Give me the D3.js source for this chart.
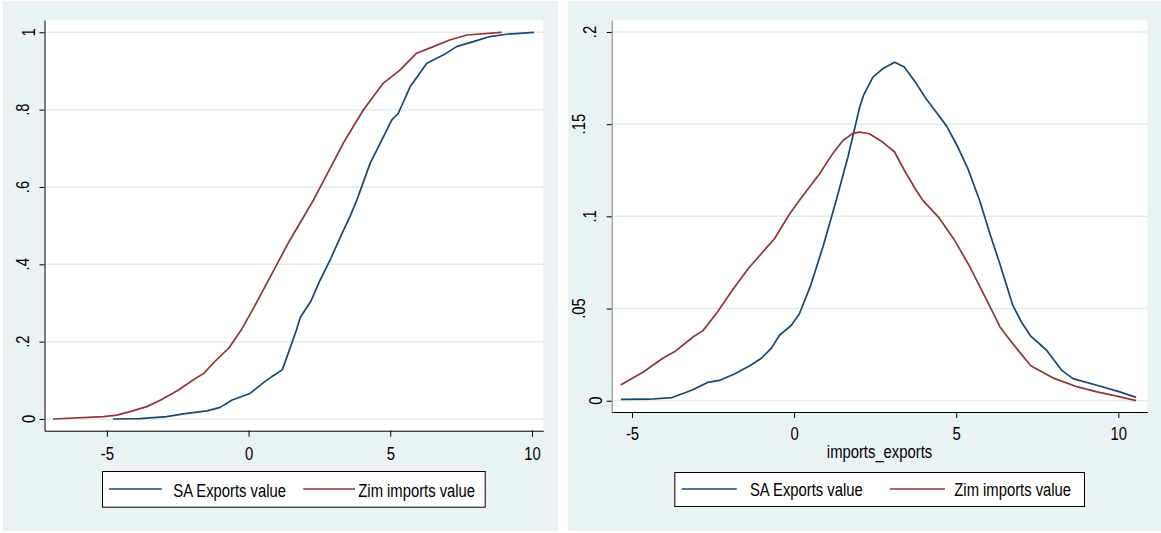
<!DOCTYPE html>
<html>
<head>
<meta charset="utf-8">
<script src="https://cdn.jsdelivr.net/npm/d3@7"></script>
<style>
  body { margin: 0; background: #fff; }
  svg { display: block; }
  text { font-family: "Liberation Sans", Arial, sans-serif; font-size: 19px; fill: #000; }
</style>
</head>
<body>
<svg id="chart" width="1161" height="533"></svg>
<script>
// ---- data ----
const seriesNames = ["SA Exports value", "Zim imports value"];

// left panel: cumulative distributions
const saCdfX  = [-4.78, -3.83, -2.89, -2.3, -1.47, -1.0, -0.58, 0.05, 0.56, 0.81, 1.19, 1.44, 1.69, 1.82, 2.2, 2.5, 2.9, 3.3, 3.6, 3.82, 4.29, 4.7, 5.05, 5.28, 5.7, 6.29, 6.87, 7.34, 7.93, 8.52, 9.1, 10.07];
const saCdfP  = [0, 0.001, 0.006, 0.013, 0.021, 0.03, 0.049, 0.066, 0.096, 0.109, 0.127, 0.178, 0.23, 0.262, 0.305, 0.355, 0.415, 0.48, 0.527, 0.566, 0.661, 0.721, 0.773, 0.79, 0.859, 0.92, 0.941, 0.963, 0.976, 0.989, 0.995, 1.0];
const zimCdfX = [-6.9, -5.12, -4.65, -4.18, -3.59, -3.1, -2.47, -1.96, -1.58, -1.2, -0.7, -0.26, 0.2, 0.6, 1.0, 1.4, 1.8, 2.29, 3.34, 4.05, 4.75, 5.34, 5.93, 6.52, 7.1, 7.7, 8.93];
const zimCdfP = [0, 0.006, 0.01, 0.019, 0.032, 0.049, 0.075, 0.101, 0.118, 0.148, 0.183, 0.23, 0.29, 0.345, 0.4, 0.455, 0.505, 0.566, 0.713, 0.799, 0.868, 0.902, 0.946, 0.963, 0.98, 0.993, 1.0];

// right panel: kernel densities
const saDensX  = [-5.34, -4.47, -3.76, -3.14, -2.67, -2.31, -1.84, -1.38, -1.01, -0.7, -0.45, -0.08, 0.16, 0.5, 0.9, 1.3, 1.66, 2.02, 2.14, 2.43, 2.73, 3.1, 3.4, 3.77, 4.07, 4.38, 4.71, 5.05, 5.36, 5.72, 6.05, 6.35, 6.74, 7.0, 7.3, 7.78, 8.25, 8.6, 9.31, 10.02, 10.55];
const saDensY  = [0.0007, 0.0008, 0.0017, 0.0058, 0.0099, 0.011, 0.0145, 0.0188, 0.023, 0.0285, 0.0355, 0.041, 0.047, 0.062, 0.084, 0.1087, 0.1322, 0.159, 0.1656, 0.1755, 0.18, 0.1836, 0.181, 0.172, 0.1638, 0.1566, 0.1488, 0.1376, 0.1259, 0.1087, 0.09, 0.074, 0.052, 0.043, 0.035, 0.0275, 0.0166, 0.012, 0.0085, 0.0049, 0.0018];
const zimDensX = [-5.35, -4.64, -4.05, -3.69, -3.11, -2.81, -2.37, -1.9, -1.4, -1.0, -0.6, -0.15, 0.16, 0.78, 1.19, 1.5, 1.81, 2.02, 2.32, 2.73, 3.1, 3.4, 3.77, 3.97, 4.48, 4.95, 5.41, 5.87, 6.1, 6.35, 6.65, 6.95, 7.3, 8.02, 8.72, 9.31, 10.02, 10.55];
const zimDensY = [0.0085, 0.0157, 0.023, 0.0265, 0.0347, 0.038, 0.048, 0.06, 0.072, 0.08, 0.088, 0.101, 0.1086, 0.123, 0.134, 0.141, 0.145, 0.1457, 0.1448, 0.1403, 0.1349, 0.125, 0.114, 0.1087, 0.099, 0.087, 0.073, 0.057, 0.049, 0.04, 0.033, 0.0265, 0.019, 0.0121, 0.0076, 0.0049, 0.0022, 0.0];

const xTicks      = [-5, 0, 5, 10];
const cdfTicks    = [0, 0.2, 0.4, 0.6, 0.8, 1];
const cdfLabels   = ["0", ".2", ".4", ".6", ".8", "1"];
const densTicks   = [0, 0.05, 0.1, 0.15, 0.2];
const densLabels  = ["0", ".05", ".1", ".15", ".2"];
const xTitleRight = "imports_exports";

const colors = ["#1A476F", "#90353B"];
const bgColor = "#EAF2F3";
const sq = 0.78;   // text in the picture is narrowed horizontally

const svg = d3.select("#chart");

function zip(xs, ys) { return xs.map((v, i) => [v, ys[i]]); }

function panel(cfg) {
  const g = svg.append("g");
  const p = cfg.plot;

  g.append("rect")
    .attr("x", cfg.bg[0]).attr("y", cfg.bg[1])
    .attr("width", cfg.bg[2]).attr("height", cfg.bg[3])
    .attr("fill", bgColor);

  g.append("rect")
    .attr("x", p.x0).attr("y", p.y0)
    .attr("width", p.x1 - p.x0).attr("height", p.y1 - p.y0)
    .attr("fill", "#fff");

  const x = d3.scaleLinear().domain(cfg.xDom).range([p.x0, p.x1]);
  const y = d3.scaleLinear().domain(cfg.yDom).range([p.y1, p.y0]);

  // grid
  g.append("g").selectAll("line")
    .data(cfg.yTicks)
    .enter()
    .append("line")
    .attr("x1", p.x0).attr("x2", p.x1)
    .attr("y1", d => y(d)).attr("y2", d => y(d))
    .attr("stroke", "#E3ECEF")
    .attr("stroke-width", 1.5);

  // x axis
  const xAxis = g.append("g")
    .attr("transform", `translate(0,${p.y1})`)
    .call(d3.axisBottom(x).tickValues(xTicks).tickSize(6).tickSizeOuter(0)
      .tickPadding(cfg.xPad).tickFormat(d => String(d)));
  xAxis.attr("font-family", null).attr("font-size", null);
  xAxis.selectAll("text").attr("transform", `scale(${sq},1)`);
  xAxis.select(".domain").attr("stroke", "#000");

  // y axis
  const yAxis = g.append("g")
    .attr("transform", `translate(${p.x0},0)`)
    .call(d3.axisLeft(y).tickValues(cfg.yTicks).tickSize(5).tickSizeOuter(0).tickFormat(""));
  yAxis.select(".domain").attr("stroke", cfg.yAxisColor);

  // rotated y labels, longer labels sit further out as in the source
  g.append("g").selectAll("text")
    .data(cfg.yTicks)
    .enter()
    .append("text")
    .attr("text-anchor", "middle")
    .text((d, i) => cfg.yLabels[i])
    .attr("transform", function (d) {
      const w = this.getComputedTextLength() * sq;
      const cx = p.x0 - 5 - 1.38 * w;
      return `translate(${cx + 6.8},${y(d)}) rotate(-90) scale(${sq},1)`;
    });

  // series
  const line = d3.line().x(d => x(d[0])).y(d => y(d[1]));
  g.append("g").selectAll("path")
    .data(cfg.series)
    .enter()
    .append("path")
    .attr("d", d => line(d))
    .attr("fill", "none")
    .attr("stroke", (d, i) => colors[i])
    .attr("stroke-width", 1.7)
    .attr("stroke-linejoin", "round");

  if (cfg.xTitle) {
    g.append("text")
      .attr("text-anchor", "middle")
      .attr("transform", `translate(${(p.x0 + p.x1) / 2},${cfg.xTitleY}) scale(${sq},1)`)
      .text(cfg.xTitle);
  }

  // legend
  const L = cfg.legend;
  const lg = g.append("g");
  lg.append("rect")
    .attr("x", L.box[0] + 0.5).attr("y", L.box[1] + 0.5)
    .attr("width", L.box[2]).attr("height", L.box[3])
    .attr("fill", "#fff").attr("stroke", "#000").attr("stroke-width", 1);
  L.keys.forEach((k, i) => {
    lg.append("line")
      .attr("x1", k[0]).attr("x2", k[1])
      .attr("y1", L.lineY).attr("y2", L.lineY)
      .attr("stroke", colors[i]).attr("stroke-width", 1.7);
    lg.append("text")
      .attr("transform", `translate(${k[2]},${L.textY}) scale(${sq},1)`)
      .text(seriesNames[i]);
  });
}

panel({
  bg: [3, 1, 555, 530],
  plot: { x0: 44.5, x1: 543.3, y0: 20, y1: 430.7 },
  xDom: [-7.2, 10.4],
  yDom: [-0.0303, 1.0318],
  yTicks: cdfTicks,
  yLabels: cdfLabels,
  yAxisColor: "#000",
  xPad: 10,
  series: [zip(saCdfX, saCdfP), zip(zimCdfX, zimCdfP)],
  legend: {
    box: [102, 471, 382.7, 35.7],
    lineY: 489, textY: 496.5,
    keys: [[109, 161.7, 173.3], [303.3, 355, 358.3]]
  }
});

panel({
  bg: [568, 1, 593, 530],
  plot: { x0: 611.7, x1: 1147.3, y0: 20, y1: 412 },
  xDom: [-5.626, 10.894],
  yDom: [-0.00613, 0.2065],
  yTicks: densTicks,
  yLabels: densLabels,
  yAxisColor: "#7a7a7a",
  xPad: 8.5,
  series: [zip(saDensX, saDensY), zip(zimDensX, zimDensY)],
  xTitle: xTitleRight,
  xTitleY: 458,
  legend: {
    box: [674.3, 472, 409.7, 34],
    lineY: 489, textY: 496,
    keys: [[681.7, 736.7, 750], [890, 945, 954.3]]
  }
});
</script>
</body>
</html>
